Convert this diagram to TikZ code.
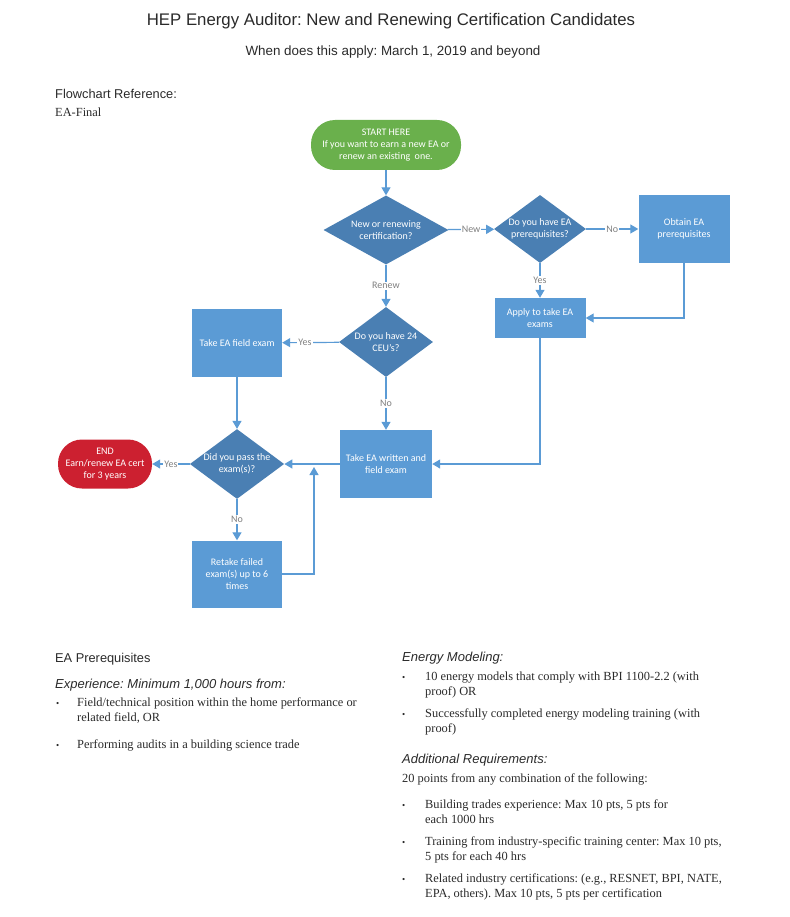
\documentclass[tikz,border=0pt]{standalone}
\usepackage{fontspec}
\setmainfont{Liberation Serif}
\setsansfont{Liberation Sans}
\newfontfamily\flowfont{Carlito}
\usetikzlibrary{shapes.geometric,arrows.meta}
\definecolor{boxblue}{HTML}{5B9BD5}
\definecolor{diablue}{HTML}{4A7FB3}
\definecolor{startgreen}{HTML}{6AB04C}
\definecolor{endred}{HTML}{CC2030}
\definecolor{inkgray}{HTML}{2A2A2A}
\frenchspacing
\begin{document}
\begin{tikzpicture}
           [x=1pt,y=-1pt,
            flow/.style={font=\flowfont\fontsize{10}{12}\selectfont,text=white,align=center,inner sep=0pt},
            stepbox/.style={flow,fill=boxblue,minimum width=91pt,minimum height=68pt},
            ask/.style={flow,diamond,fill=diablue,aspect=1.35},
            term/.style={flow,rounded corners=24pt},
            arr/.style={draw=boxblue,line width=1.2pt,-{Triangle[length=8pt,width=9pt]}},
            lbl/.style={font=\flowfont\fontsize{10}{12}\selectfont,text=gray,fill=white,inner sep=1pt},
            head/.style={font=\sffamily\fontsize{12.8}{15}\selectfont,text=inkgray,anchor=base west},
            sub/.style={font=\sffamily\itshape\fontsize{13}{15}\selectfont,text=inkgray,anchor=base west},
            body/.style={font=\fontsize{12.4}{15}\selectfont,text=inkgray,anchor=base west,inner sep=0pt},
            dot/.style={font=\fontsize{9}{10}\selectfont,text=inkgray,anchor=base west,inner sep=0pt}]
           \useasboundingbox (0,0) rectangle (789,917);

           % headings
           \node[font=\sffamily\fontsize{16.8}{19}\selectfont,text=inkgray,anchor=base] (title) at (391,26)
             {HEP Energy Auditor: New and Renewing Certification Candidates};
           \node[font=\sffamily\fontsize{13.4}{15}\selectfont,text=inkgray,anchor=base] (when) at (393,56)
             {When does this apply: March 1, 2019 and beyond};
           \node[head,inner sep=0pt] (ref) at (55,99) {Flowchart Reference:};
           \node[body] (refname) at (55,117) {EA-Final};

           % flowchart
           \node[term,fill=startgreen,minimum width=150pt,minimum height=50pt] (start) at (386,145)
             {START HERE\\If you want to earn a new EA or\\renew an existing\ \ one.};
           \node[ask,aspect=1.8,minimum width=125pt,minimum height=69pt] (kind) at (386,230) {New or renewing\\certification?};
           \node[ask,minimum width=92pt,minimum height=68pt] (prereq) at (540,229) {Do you have EA\\prerequisites?};
           \node[stepbox] (obtain) at (684,229) {Obtain EA\\prerequisites};
           \node[stepbox,minimum height=40pt] (apply) at (540,318) {Apply to take EA\\exams};
           \node[ask,minimum width=94pt,minimum height=70pt] (ceu) at (386,342) {Do you have 24\\CEU’s?};
           \node[stepbox,minimum width=90pt] (field) at (237,343) {Take EA field exam};
           \node[stepbox,minimum width=92pt] (written) at (386,464) {Take EA written and\\field exam};
           \node[ask,minimum width=90pt,minimum height=68pt] (pass) at (237,464) {Did you pass the\\exam(s)?};
           \node[term,fill=endred,minimum width=94pt,minimum height=49pt] (end) at (105,464)
             {END\\Earn/renew EA cert\\for 3 years};
           \node[stepbox,minimum width=90pt,minimum height=67pt] (retake) at (237,574)
             {Retake failed\\exam(s) up to 6\\times};
           \coordinate (rejoin) at (314,467);

           \draw[arr] (start) -- (kind);
           \draw[arr] (kind) -- node[lbl] {New} (prereq);
           \draw[arr] (prereq) -- node[lbl] {No} (obtain);
           \draw[arr] (prereq) -- node[lbl] {Yes} (apply);
           \draw[arr] (obtain.south) |- (apply.east);
           \draw[arr] (kind) -- node[lbl] {Renew} (ceu);
           \draw[arr] (ceu) -- node[lbl,pos=0.6] {Yes} (field);
           \draw[arr] (ceu) -- node[lbl] {No} (written);
           \draw[arr] (apply.south) |- (written.east);
           \draw[arr] (written) -- (pass);
           \draw[arr] (field) -- (pass);
           \draw[arr] (pass) -- node[lbl] {Yes} (end);
           \draw[arr] (pass) -- node[lbl] {No} (retake);
           \draw[arr] (retake.east) -| (rejoin);

           % prerequisites, left column
           \node[head,inner sep=0pt] (prq) at (55,662) {EA Prerequisites};
           \node[sub,inner sep=0pt] (exp) at (55,688) {Experience: Minimum 1,000 hours from:};
           \node[dot] (b1) at (56,706) {\textbullet};
           \node[body] (e1a) at (77,706) {Field/technical position within the home performance or};
           \node[body] (e1b) at (77,721) {related field, OR};
           \node[dot] (b2) at (56,748) {\textbullet};
           \node[body] (e2) at (77,748) {Performing audits in a building science trade};

           % right column
           \node[sub,inner sep=0pt] (model) at (402,661) {Energy Modeling:};
           \node[dot] (b3) at (402,680) {\textbullet};
           \node[body] (m1a) at (425,680) {10 energy models that comply with BPI 1100-2.2 (with};
           \node[body] (m1b) at (425,695) {proof) OR};
           \node[dot] (b4) at (402,717) {\textbullet};
           \node[body] (m2a) at (425,717) {Successfully completed energy modeling training (with};
           \node[body] (m2b) at (425,732) {proof)};
           \node[sub,inner sep=0pt] (addreq) at (402,763) {Additional Requirements:};
           \node[body] (pts) at (402,782) {20 points from any combination of the following:};
           \node[dot] (b5) at (402,808) {\textbullet};
           \node[body] (a1a) at (425,808) {Building trades experience: Max 10 pts, 5 pts for};
           \node[body] (a1b) at (425,823) {each 1000 hrs};
           \node[dot] (b6) at (402,845) {\textbullet};
           \node[body] (a2a) at (425,845) {Training from industry-specific training center: Max 10 pts,};
           \node[body] (a2b) at (425,860) {5 pts for each 40 hrs};
           \node[dot] (b7) at (402,882) {\textbullet};
           \node[body] (a3a) at (425,882) {Related industry certifications: (e.g., RESNET, BPI, NATE,};
           \node[body] (a3b) at (425,897) {EPA, others). Max 10 pts, 5 pts per certification};
         \end{tikzpicture}
\end{document}
